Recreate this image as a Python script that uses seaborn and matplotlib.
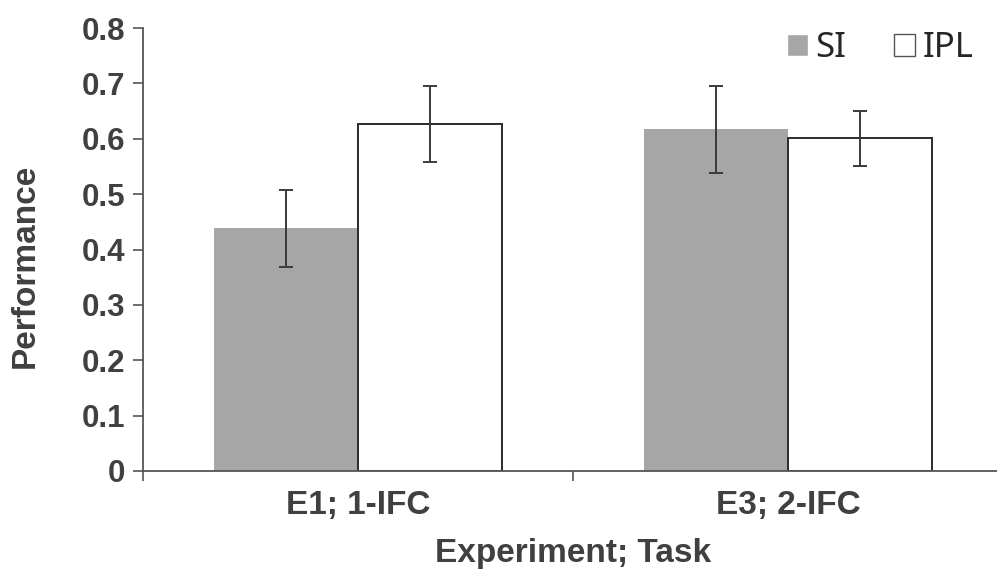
import pandas as pd
import matplotlib.pyplot as plt
import seaborn as sns

# datos
categorias = ['E1; 1-IFC', 'E3; 2-IFC']
grupos = ['SI', 'IPL']
si_vals = [0.438, 0.617]
ipl_vals = [0.627, 0.601]
si_err = [0.070, 0.078]
ipl_err = [0.069, 0.050]

df = pd.DataFrame({
    'Experiment; Task': categorias * 2,
    'Grupo': ['SI'] * 2 + ['IPL'] * 2,
    'Performance': si_vals + ipl_vals,
})
errores = {'SI': si_err, 'IPL': ipl_err}

sns.set_style('white')
plt.rcParams['font.family'] = ['Liberation Sans', 'DejaVu Sans']

fig = plt.figure(figsize=(9.97, 5.73), dpi=100)
ax = fig.add_axes([143 / 997, 102 / 573, 860 / 997, 443 / 573])

sns.barplot(data=df, x='Experiment; Task', y='Performance', hue='Grupo',
            hue_order=grupos, palette={'SI': '#a6a6a6', 'IPL': 'white'},
            width=0.67, gap=0, errorbar=None, ax=ax)

# bordes: SI sin borde, IPL con borde oscuro
for cont, g in zip(ax.containers, grupos):
    for bar in cont:
        if g == 'IPL':
            bar.set_edgecolor('#2b2b2b')
            bar.set_linewidth(1.4)
        else:
            bar.set_edgecolor('none')
    xs = [b.get_x() + b.get_width() / 2 for b in cont]
    ys = [b.get_height() for b in cont]
    ax.errorbar(xs, ys, yerr=errores[g], fmt='none', ecolor='#3a3a3a',
                elinewidth=1.4, capsize=5, capthick=1.4, zorder=5)

ax.set_xlim(-0.5, 1.5)
ax.set_ylim(0, 0.8)
ax.set_yticks([0, 0.1, 0.2, 0.3, 0.4, 0.5, 0.6, 0.7, 0.8])
ax.set_yticklabels(['0', '0.1', '0.2', '0.3', '0.4', '0.5', '0.6', '0.7', '0.8'])
ax.set_xticks([0, 1])
ax.set_xticks([-0.5, 0.5, 1.5], minor=True)

txt = '#404040'
ax.tick_params(axis='y', which='major', direction='out', length=7, width=1.2,
               color='#555555', labelsize=22.5, labelcolor=txt, pad=6, left=True)
ax.tick_params(axis='x', which='major', length=0, labelsize=24,
               labelcolor=txt, pad=14)
ax.tick_params(axis='x', which='minor', direction='out', length=7, width=1.2,
               color='#555555', bottom=True)
for lab in ax.get_xticklabels() + ax.get_yticklabels():
    lab.set_fontweight('bold')

ax.set_xlabel('Experiment; Task', fontsize=24, fontweight='bold', color=txt, labelpad=12)
ax.set_ylabel('Performance', fontsize=24, fontweight='bold', color=txt)
ax.yaxis.set_label_coords(-0.1186, 0.463)

sns.despine(ax=ax)
for s in ['left', 'bottom']:
    ax.spines[s].set_color('#555555')
    ax.spines[s].set_linewidth(1.3)

handles, labels = ax.get_legend_handles_labels()
for h in handles:
    if h.get_label() == 'IPL':
        h.set_edgecolor('#555555')
ax.legend(handles, labels, ncol=2, frameon=False, loc='upper right',
          bbox_to_anchor=(1.008, 1.0), bbox_transform=fig.transFigure,
          prop={'family': 'Noto Sans', 'size': 25}, handlelength=0.6,
          handleheight=0.6, handletextpad=0.22, columnspacing=1.38)

fig.savefig('out.png', dpi=100)
